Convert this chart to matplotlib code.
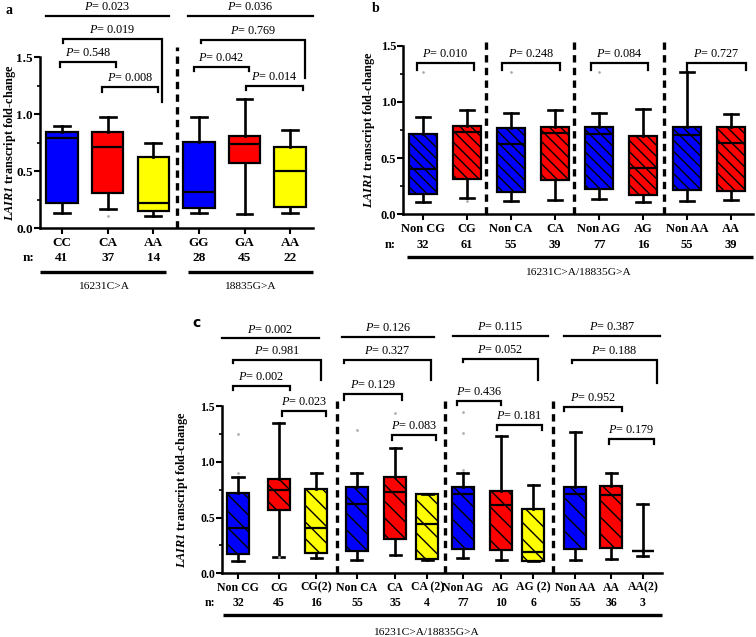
"""
Three-panel box plot: LAIR1 transcript fold-change by genotype.
"""

import matplotlib
matplotlib.use("Agg")
import matplotlib.pyplot as plt
from matplotlib.ticker import FixedLocator

plt.rcParams["font.family"] = "Liberation Serif"
plt.rcParams["mathtext.fontset"] = "custom"
plt.rcParams["mathtext.it"] = "Liberation Serif:italic"
plt.rcParams["mathtext.bf"] = "Liberation Serif:bold:italic"
plt.rcParams["hatch.linewidth"] = 1.0
plt.rcParams["hatch.color"] = "black"

W, H = 756, 637
BLUE, RED, YELLOW = "#0000ff", "#ff0000", "#ffff00"

# ── Panel a data ─────────────────────────────────────────────────────────
a_labels = ["CC", "CA", "AA", "GG", "GA", "AA"]
a_n = [41, 37, 14, 28, 45, 22]
a_whislo = [0.13, 0.167, 0.108, 0.13, 0.123, 0.137]
a_q1 = [0.225, 0.307, 0.152, 0.175, 0.576, 0.19]
a_med = [0.795, 0.716, 0.219, 0.316, 0.74, 0.506]
a_q3 = [0.842, 0.848, 0.629, 0.754, 0.81, 0.716]
a_whishi = [0.90, 0.974, 0.751, 0.974, 1.13, 0.863]
a_fliers = [[], [0.11], [], [], [], []]
a_groups = ["16231C>A", "18835G>A"]

# ── Panel b data ─────────────────────────────────────────────────────────
b_labels = ["Non CG", "CG", "Non CA", "CA", "Non AG", "AG", "Non AA", "AA"]
b_n = [32, 61, 55, 39, 77, 16, 55, 39]
b_whislo = [0.113, 0.145, 0.122, 0.128, 0.136, 0.11, 0.122, 0.128]
b_q1 = [0.181, 0.315, 0.199, 0.306, 0.228, 0.172, 0.217, 0.205]
b_med = [0.40, 0.733, 0.623, 0.721, 0.712, 0.409, 0.706, 0.638]
b_q3 = [0.712, 0.786, 0.771, 0.777, 0.78, 0.70, 0.777, 0.777]
b_whishi = [0.864, 0.929, 0.899, 0.929, 0.899, 0.941, 1.27, 0.893]
b_fliers = [[1.27], [0.12], [1.27], [], [1.27], [], [], []]
b_pvals = ["0.010", "0.248", "0.084", "0.727"]
b_group = "16231C>A/18835G>A"

# ── Panel c data ─────────────────────────────────────────────────────────
c_labels = ["Non CG", "CG", "CG(2)", "Non CA", "CA", "CA (2)",
            "Non AG", "AG", "AG (2)", "Non AA", "AA", "AA(2)"]
c_n = [32, 45, 16, 55, 35, 4, 77, 10, 6, 55, 36, 3]
c_whislo = [0.114, 0.15, 0.135, 0.12, 0.165, 0.12, 0.141, 0.12, 0.108, 0.12, 0.129, 0.156]
c_q1 = [0.171, 0.569, 0.18, 0.2, 0.308, 0.126, 0.219, 0.207, 0.111, 0.222, 0.228, 0.2]
c_med = [0.404, 0.749, 0.41, 0.62, 0.728, 0.443, 0.716, 0.617, 0.195, 0.71, 0.70, 0.2]
c_q3 = [0.719, 0.847, 0.754, 0.775, 0.865, 0.713, 0.778, 0.737, 0.578, 0.778, 0.784, 0.2]
c_whishi = [0.862, 1.347, 0.898, 0.904, 1.13, 0.713, 0.904, 1.234, 0.79, 1.272, 0.898, 0.623]
c_fliers = [[1.25, 0.9], [0.15], [], [1.29], [1.44], [], [1.45, 1.26, 0.93], [], [], [], [], []]
c_group = "16231C>A/18835G>A"


# ── Helpers ──────────────────────────────────────────────────────────────

def px_rect(x0, x1, ybot, ytop):
    """Axes rect from pixel coordinates (origin top-left)."""
    return [x0 / W, 1 - ybot / H, (x1 - x0) / W, (ybot - ytop) / H]


def make_stats(whislo, q1, med, q3, whishi, fliers):
    return [dict(whislo=a, q1=b, med=c, q3=d, whishi=e, fliers=f)
            for a, b, c, d, e, f in zip(whislo, q1, med, q3, whishi, fliers)]


def draw_boxes(ax, pos, stats, colors, width, hatch=None):
    bp = ax.bxp(stats, positions=pos, widths=width, patch_artist=True,
                showfliers=True, manage_ticks=False,
                boxprops=dict(linewidth=1.6, edgecolor="black"),
                whiskerprops=dict(linewidth=1.9, color="black"),
                capprops=dict(linewidth=1.9, color="black"),
                medianprops=dict(linewidth=1.6, color="black"),
                flierprops=dict(marker="o", markersize=1.0, markerfacecolor="#b0b0b0",
                                markeredgecolor="#b0b0b0", linestyle="none"))
    for box, col in zip(bp["boxes"], colors):
        box.set_facecolor(col)
        if hatch:
            box.set_hatch(hatch)
    return bp


def style_axes(ax, xlim, ylim, pos, labels, fs):
    ax.set_xlim(*xlim)
    ax.set_ylim(*ylim)
    for s in ("top", "right"):
        ax.spines[s].set_visible(False)
    ax.spines["left"].set_bounds(0, 1.5)
    ax.spines["left"].set_linewidth(1.8)
    ax.spines["bottom"].set_linewidth(1.8)
    ax.set_yticks([0, 0.5, 1.0, 1.5])
    ax.yaxis.set_minor_locator(FixedLocator([0.25, 0.75, 1.25]))
    ax.set_yticklabels(["0.0", "0.5", "1.0", "1.5"], fontsize=fs, fontweight="bold")
    ax.tick_params(axis="y", which="major", length=4, width=1.5, pad=1)
    ax.tick_params(axis="y", which="minor", length=2.5, width=1.2)
    ax.set_xticks(pos)
    ax.set_xticklabels(labels, fontsize=fs, fontweight="bold")
    ax.tick_params(axis="x", length=4, width=1.5, pad=2)
    ax.patch.set_alpha(0)


def bracket(ax, x1, x2, y, dl, dr, p, fs=8.8):
    ax.plot([x1, x1, x2, x2], [y - dl, y, y, y - dr], color="black",
            lw=1.6, clip_on=False, solid_joinstyle="miter")
    ax.text((x1 + x2) / 2, y + 0.025, r"$\mathit{P}$= " + p, ha="center",
            va="bottom", fontsize=fs)


def divider(ax, x, top):
    ax.plot([x, x], [0, top], color="black", lw=2.4, linestyle=(0, (2.2, 1.6)),
            clip_on=False)


def n_row(ax, pos, n, y, xn, fs):
    ax.text(xn, y, "n:", ha="left", va="center", fontsize=fs, fontweight="bold")
    for p, v in zip(pos, n):
        ax.text(p, y, str(v), ha="center", va="center", fontsize=fs, fontweight="bold")


def group_line(ax, x1, x2, y, label, xl, yl):
    ax.plot([x1, x2], [y, y], color="black", lw=2.4, clip_on=False,
            solid_capstyle="butt")
    ax.text(xl, yl, label, ha="center", va="center", fontsize=8.2)


fig = plt.figure(figsize=(W / 100, H / 100), dpi=100)
ylabel = r"$\mathbf{LAIR1}$ transcript fold-change"

# ── Panel a ──────────────────────────────────────────────────────────────
ax = fig.add_axes(px_rect(40, 313, 228.3, 0.3))
a_pos = list(range(1, 7))
draw_boxes(ax, a_pos, make_stats(a_whislo, a_q1, a_med, a_q3, a_whishi, a_fliers),
           [BLUE, RED, YELLOW, BLUE, RED, YELLOW], 0.69)
style_axes(ax, (0.518, 6.50), (0, 2.0), a_pos, a_labels, 9.5)
ax.set_ylabel(ylabel, fontsize=8.8, fontweight="bold")
ax.yaxis.set_label_coords(-0.082, 0.375)
divider(ax, 3.52, 1.59)
bracket(ax, 0.96, 2.18, 1.456, 0.04, 0.04, "0.548")
bracket(ax, 1.88, 3.11, 1.237, 0.04, 0.04, "0.008")
bracket(ax, 1.02, 3.19, 1.658, 0.03, 0.55, "0.019")
bracket(ax, 0.65, 3.34, 1.865, 0, 0, "0.023")
bracket(ax, 3.89, 5.10, 1.418, 0.04, 0.04, "0.042")
bracket(ax, 4.05, 6.33, 1.652, 0.03, 0.33, "0.769")
bracket(ax, 5.04, 6.27, 1.25, 0.04, 0.04, "0.014")
bracket(ax, 3.76, 6.50, 1.865, 0, 0, "0.036")
n_row(ax, a_pos, a_n, -0.26, 0.13, 9.5)
group_line(ax, 0.52, 3.28, -0.38, a_groups[0], 1.9, -0.51)
group_line(ax, 3.76, 6.50, -0.38, a_groups[1], 5.12, -0.51)
fig.text(5 / W, 1 - 10 / H, "a", fontsize=10, fontweight="bold", ha="left", va="center")

# ── Panel b ──────────────────────────────────────────────────────────────
ax = fig.add_axes(px_rect(403, 753, 214.3, 0.7))
b_pos = list(range(1, 9))
draw_boxes(ax, b_pos, make_stats(b_whislo, b_q1, b_med, b_q3, b_whishi, b_fliers),
           [BLUE, RED] * 4, 0.64, hatch="\\\\\\")
style_axes(ax, (0.545, 8.5), (0, 1.9), b_pos, b_labels, 9)
ax.set_ylabel(ylabel, fontsize=8.8, fontweight="bold")
ax.yaxis.set_label_coords(-0.075, 0.395)
for x in (2.43, 4.43, 6.48):
    divider(ax, x, 1.54)
for (x1, x2), p in zip([(0.86, 2.16), (2.80, 4.11), (4.82, 6.11), (7.0, 8.34)], b_pvals):
    bracket(ax, x1, x2, 1.344, 0.06, 0.06, p)
n_row(ax, b_pos, b_n, -0.273, 0.136, 9)
group_line(ax, 0.64, 8.5, -0.38, b_group, 4.52, -0.52)
fig.text(372 / W, 1 - 8 / H, "b", fontsize=10, fontweight="bold", ha="left", va="center")

# ── Panel c ──────────────────────────────────────────────────────────────
ax = fig.add_axes(px_rect(222, 662, 573.3, 317.3))
c_pos = [1, 2.11, 3.12, 4.23, 5.27, 6.14, 7.11, 8.15, 9.02, 10.16, 11.14, 12.0]
draw_boxes(ax, c_pos, make_stats(c_whislo, c_q1, c_med, c_q3, c_whishi, c_fliers),
           [BLUE, RED, YELLOW] * 4, 0.6, hatch="\\\\")
style_axes(ax, (0.565, 12.52), (0, 2.3), c_pos, c_labels, 8.5)
ax.set_ylabel(ylabel, fontsize=8.8, fontweight="bold")
ax.yaxis.set_label_coords(-0.073, 0.326)
for x in (3.69, 6.63, 9.56):
    divider(ax, x, 1.55)
# group 1
bracket(ax, 0.565, 3.2, 2.11, 0, 0, "0.002")
bracket(ax, 0.86, 3.26, 1.916, 0.03, 0.18, "0.981")
bracket(ax, 0.86, 2.41, 1.683, 0.04, 0.04, "0.002")
bracket(ax, 2.2, 3.39, 1.46, 0.05, 0.05, "0.023")
# group 2
bracket(ax, 3.83, 6.33, 2.125, 0, 0, "0.126")
bracket(ax, 3.88, 6.24, 1.92, 0.03, 0.18, "0.327")
bracket(ax, 3.88, 5.46, 1.61, 0.05, 0.05, "0.129")
bracket(ax, 5.18, 6.38, 1.24, 0.04, 0.04, "0.083")
# group 3
bracket(ax, 6.84, 9.42, 2.13, 0, 0, "0.115")
bracket(ax, 7.11, 9.15, 1.925, 0.03, 0.19, "0.052")
bracket(ax, 6.95, 8.15, 1.548, 0.04, 0.04, "0.436")
bracket(ax, 8.04, 9.26, 1.33, 0.04, 0.04, "0.181")
# group 4
bracket(ax, 9.86, 12.47, 2.13, 0, 0, "0.387")
bracket(ax, 10.08, 12.39, 1.92, 0.03, 0.21, "0.188")
bracket(ax, 9.86, 11.43, 1.497, 0.04, 0.04, "0.952")
bracket(ax, 11.08, 12.3, 1.21, 0.045, 0.045, "0.179")
n_row(ax, c_pos, c_n, -0.267, 0.10, 8.5)
group_line(ax, 0.59, 12.52, -0.375, c_group, 6.1, -0.53)
fig.text(192 / W, 1 - 323 / H, "c", fontsize=10, fontweight="bold", ha="left",
         va="center", family="DejaVu Sans")

fig.savefig("out.png", dpi=100)
plt.close(fig)
